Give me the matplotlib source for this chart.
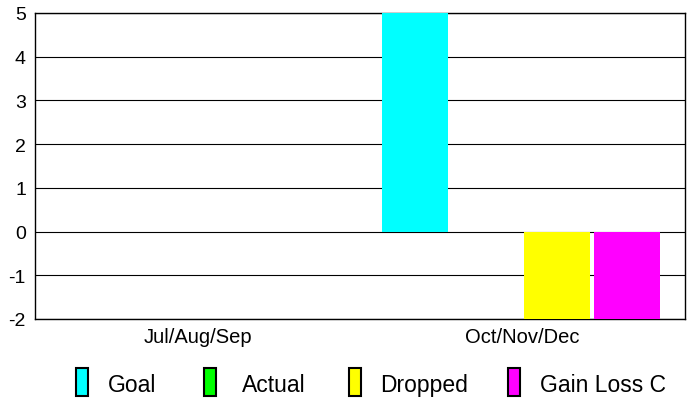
import matplotlib
matplotlib.use("Agg")
import matplotlib.pyplot as plt
from matplotlib.patches import Rectangle

plt.rcParams['font.family'] = ['Liberation Sans', 'DejaVu Sans']

categories = ["Jul/Aug/Sep", "Oct/Nov/Dec"]
series_names = ["Goal", "Actual", "Dropped", "Gain Loss C"]
goal = [0, 5]
actual = [0, 0]
dropped = [0, -2]
gain_loss = [0, -2]
colors = ["#00FFFF", "#00FF00", "#FFFF00", "#FF00FF"]
yticks = [-2, -1, 0, 1, 2, 3, 4, 5]

W, H = 693, 402
fig = plt.figure(figsize=(W / 100, H / 100), dpi=100)
ax = fig.add_axes([35 / W, 1 - 320 / H, (685 - 35) / W, (320 - 14) / H])

series = [goal, actual, dropped, gain_loss]
offsets = [-0.331, -0.112, 0.106, 0.323]
bw = 0.203
for vals, off, c in zip(series, offsets, colors):
    xs = [i + off for i in range(len(categories))]
    ax.bar(xs, vals, width=bw, color=c, edgecolor='none', zorder=3)

ax.set_xlim(-0.5, 1.5)
ax.set_ylim(-2, 5)
ax.set_yticks(yticks)
ax.set_yticklabels([str(v) for v in yticks])
ax.set_xticks(range(len(categories)))
ax.set_xticklabels(categories)
ax.tick_params(axis='both', length=0)
ax.tick_params(axis='x', pad=6, labelsize=14.5)
ax.tick_params(axis='y', pad=6.5, labelsize=14)
ax.yaxis.grid(True, color='black', linewidth=0.8, zorder=1)
ax.set_axisbelow(True)
for s in ax.spines.values():
    s.set_color('black')
    s.set_linewidth(1.0)

# legend
patch_x = [76, 204, 349, 508]
text_x = [108, 242, 380, 540]
for px, tx, c, name in zip(patch_x, text_x, colors, series_names):
    fig.patches.append(Rectangle((px / W, 1 - 397 / H), 12 / W, 28 / H,
                                 transform=fig.transFigure, facecolor=c,
                                 edgecolor='black', linewidth=1.5))
    fig.text(tx / W, 1 - 392 / H, name, fontsize=16.5, va='baseline', ha='left')

fig.savefig("out.png", dpi=100)
